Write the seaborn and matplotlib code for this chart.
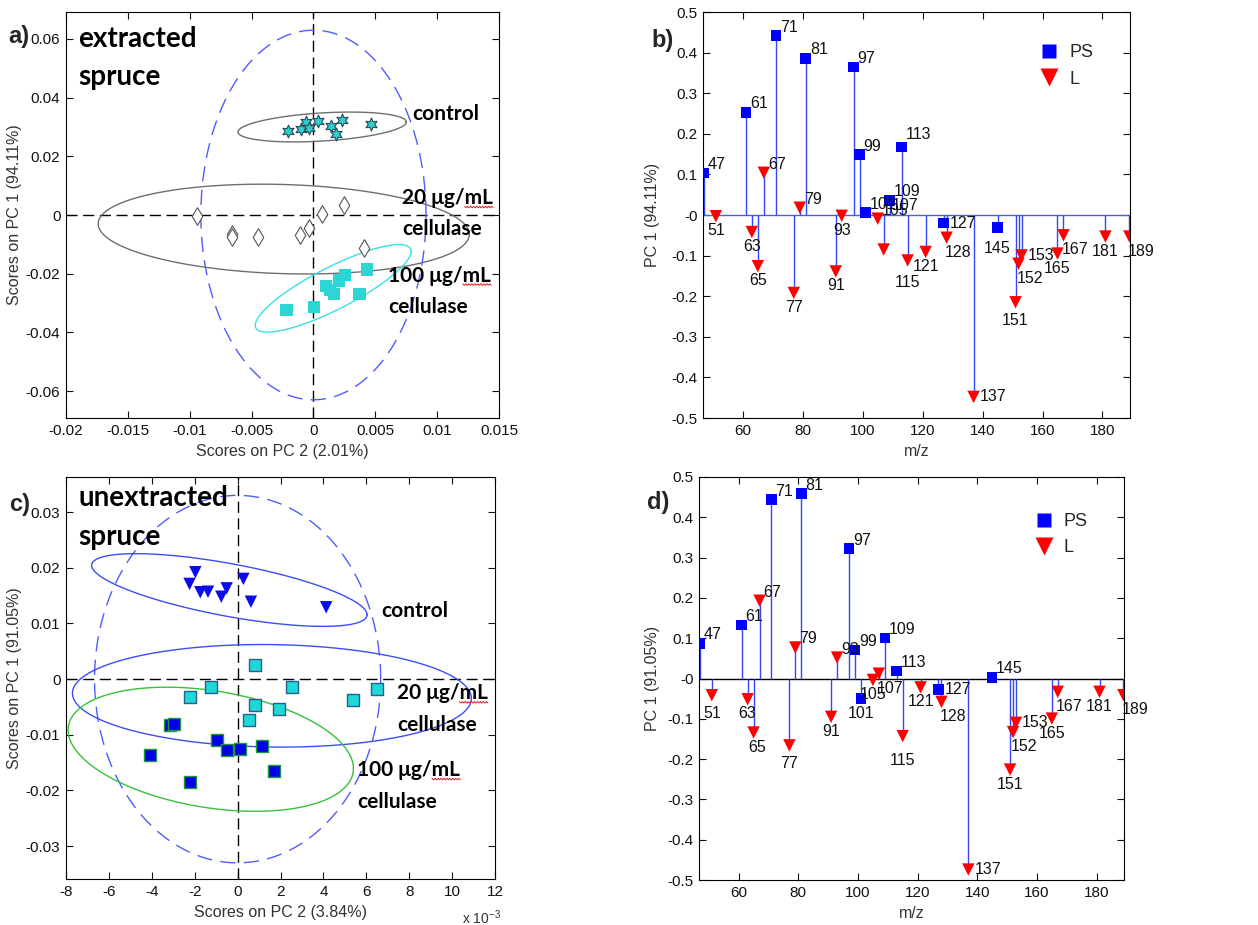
import numpy as np
import pandas as pd
import seaborn as sns
import matplotlib.pyplot as plt
from matplotlib import font_manager as fm
from matplotlib.lines import Line2D
from matplotlib.transforms import IdentityTransform
from matplotlib.ticker import FuncFormatter

# --- global style ---
sns.set_theme(style="ticks")
names = {f.name for f in fm.fontManager.ttflist}
NUM = 'Liberation Sans Narrow' if 'Liberation Sans Narrow' in names else 'Liberation Sans'
plt.rcParams['font.family'] = [NUM, 'DejaVu Sans']
plt.rcParams['axes.unicode_minus'] = False
plt.rcParams['mathtext.default'] = 'regular'
BOLD = ['Lato', 'DejaVu Sans']

# --- a) extracted spruce, scores ---
a_ctrl_pc2 = [-0.00208, -0.00103, -0.00062, -0.00038, 0.00035, 0.0014, 0.0018, 0.00234, 0.00469]
a_ctrl_pc1 = [0.0287, 0.0294, 0.0316, 0.0296, 0.0320, 0.0305, 0.0277, 0.0324, 0.0311]
a_c20_pc2 = [-0.00943, -0.00657, -0.00657, -0.00447, -0.00108, -0.00035, 0.00073, 0.00248, 0.00407]
a_c20_pc1 = [-0.0003, -0.0066, -0.0076, -0.0074, -0.0069, -0.0043, 0.0003, 0.0033, -0.0114]
a_c100_pc2 = [-0.00216, 0.00003, 0.00100, 0.00132, 0.00167, 0.00205, 0.00256, 0.00372, 0.00431]
a_c100_pc1 = [-0.0324, -0.0313, -0.0242, -0.0256, -0.0269, -0.0224, -0.0205, -0.0269, -0.0186]
# ellipses: centre x, centre y, half width, half height, tilt
a_ell_ctrl = [0.0007, 0.0300, 0.0068, 0.0048, 0.25]
a_ell_c20 = [-0.0024, -0.0048, 0.0150, 0.0152, -0.12]
a_ell_c100 = [0.0016, -0.0250, 0.0063, 0.0080, 2.0]
a_ell_lim = [0.0, 0.0, 0.0091, 0.063, 0.0]

# --- c) unextracted spruce, scores (PC 2 in 1e-3) ---
c_ctrl_pc2 = [-2.24, -1.97, -1.74, -1.38, -0.76, -0.51, 0.27, 0.62, 4.13]
c_ctrl_pc1 = [0.0171, 0.0192, 0.0156, 0.0157, 0.0148, 0.0163, 0.0180, 0.0139, 0.0129]
c_c20_pc2 = [-2.24, -1.22, 0.82, 0.82, 0.51, 1.91, 2.55, 5.36, 6.49]
c_c20_pc1 = [-0.0033, -0.0014, 0.0025, -0.0047, -0.0073, -0.0054, -0.0014, -0.0037, -0.0017]
c_c100_pc2 = [-4.10, -3.17, -2.98, -2.20, -0.96, -0.49, 0.09, 1.13, 1.72]
c_c100_pc1 = [-0.0137, -0.0083, -0.0080, -0.0184, -0.0109, -0.0127, -0.0125, -0.0120, -0.0165]
c_ell_ctrl = [-0.385, 0.0160, 6.42, 0.0048, -0.00069]
c_ell_c20 = [1.6, -0.0030, 9.3, 0.0092, -0.00005]
c_ell_c100 = [-1.25, -0.0126, 6.65, 0.0106, -0.00052]
c_ell_lim = [0.0, 0.0, 6.67, 0.033, 0.0]

# --- b), d) loadings on PC 1 ---
mz = [47, 51, 61, 63, 65, 67, 71, 77, 79, 81, 91, 93, 97, 99, 101, 105,
      107, 109, 113, 115, 121, 127, 128, 137, 145, 151, 152, 153, 165, 167, 181, 189]
ps_ions = [47, 61, 71, 81, 97, 99, 101, 109, 113, 127, 145]
load_b = [0.103, -0.003, 0.253, -0.042, -0.126, 0.104, 0.442, -0.192, 0.018, 0.386, -0.139, -0.002,
          0.365, 0.149, 0.006, -0.009, -0.085, 0.036, 0.168, -0.112, -0.091, -0.020, -0.056, -0.448,
          -0.031, -0.215, -0.120, -0.0995, -0.095, -0.050, -0.053, -0.053]
load_d = [0.087, -0.0415, 0.133, -0.0515, -0.134, 0.193, 0.444, -0.166, 0.077, 0.459, -0.095, 0.052,
          0.322, 0.071, -0.050, -0.0035, 0.012, 0.100, 0.019, -0.143, -0.022, -0.028, -0.058, -0.474,
          0.0025, -0.226, -0.133, -0.110, -0.0995, -0.033, -0.033, -0.0415]

# label placement (u = upper right, b = below, br = below right, r = right)
b_place = {47: 'u', 51: 'b', 61: 'u', 63: 'b', 65: 'b', 67: 'u', 71: 'u', 77: 'b', 79: 'u', 81: 'u',
           91: 'b', 93: 'b', 97: 'u', 99: 'u', 101: 'u', 105: 'u', 107: 'u', 109: 'u', 113: 'u',
           115: 'b', 121: 'b', 127: 'r', 128: 'br', 137: 'r', 145: 'b', 151: 'b', 152: 'br',
           153: 'r', 165: 'b', 167: 'br', 181: 'b', 189: 'br'}
d_place = dict(b_place)
d_place.update({93: 'u', 101: 'b', 105: 'b', 107: 'br', 145: 'u'})
b_shift = {107: (4, 36), 113: (0, 4), 145: (0, -6), 151: (0, -4), 115: (0, -8)}
d_shift = {115: (0, -10), 77: (0, -4), 51: (0, -4), 65: (4, 0)}

W, H = 1258, 925
fig = plt.figure(figsize=(W / 100, H / 100), dpi=100)


def box(l, t, r, b):
    return fig.add_axes([l / W, (H - b) / H, (r - l) / W, (b - t) / H])


def style_ax(ax):
    ax.tick_params(direction='in', top=True, right=True, length=5, width=0.8,
                   labelsize=11, colors='#111111', pad=4)
    for s in ax.spines.values():
        s.set_color('black')
        s.set_linewidth(0.8)
    ax.xaxis.set_major_formatter(FuncFormatter(lambda v, p: f"{v:g}"))
    ax.yaxis.set_major_formatter(FuncFormatter(lambda v, p: f"{v:g}"))


def ellipse(ax, p, **kw):
    cx, cy, a, b, k = p
    t = np.linspace(0, 2 * np.pi, 300)
    ax.plot(cx + a * np.cos(t), cy + b * np.sin(t) + k * a * np.cos(t), **kw)


spell_marked = []


def big_text(ax, x, y, s, size=15):
    t = ax.text(x, y, s, transform=ax.transAxes, family=BOLD, weight='bold',
                fontsize=size, va='baseline', ha='left', color='black', zorder=6)
    if s.endswith('mL'):
        spell_marked.append(t)


def score_panel(ax, groups, ells, ell_colors, lim, xlim, ylim, xticks, yticks):
    ax.axhline(0, color='black', lw=1, ls=(0, (8, 4)), zorder=1)
    ax.axvline(0, color='black', lw=1, ls=(0, (8, 4)), zorder=1)
    ellipse(ax, lim, color='#4f5cff', lw=1, ls=(0, (11, 6)), zorder=2)
    for p, c in zip(ells, ell_colors):
        ellipse(ax, p, color=c, lw=1, zorder=2)
    for x, y, kw in groups:
        sns.scatterplot(x=x, y=y, ax=ax, legend=False, zorder=4, **kw)
    ax.set_xlim(*xlim)
    ax.set_ylim(*ylim)
    ax.set_xticks(xticks)
    ax.set_yticks(yticks)
    style_ax(ax)


def loading_panel(ax, vals, place, shift, base_color, ylab, leg_y):
    df = pd.DataFrame({'mz': mz, 'val': vals})
    df['group'] = np.where(df['mz'].isin(ps_ions), 'PS', 'L')
    ax.axhline(0, color=base_color, lw=1, zorder=1)
    ax.vlines(df['mz'], 0, df['val'], color='#3347ff', lw=1, zorder=2)
    sns.scatterplot(data=df, x='mz', y='val', hue='group', style='group', size='group',
                    hue_order=['PS', 'L'], style_order=['PS', 'L'], size_order=['PS', 'L'],
                    sizes={'PS': 58, 'L': 80},
                    palette={'PS': '#0000ff', 'L': '#ff0000'},
                    markers={'PS': 's', 'L': 'v'}, edgecolor='none',
                    ax=ax, zorder=4)
    modes = {'u': (4, 1, 'left', 'bottom'), 'b': (0, -7, 'center', 'top'),
             'br': (-2, -7, 'left', 'top'), 'r': (6, 0, 'left', 'center')}
    for m, v in zip(mz, vals):
        dx, dy, ha, va = modes[place[m]]
        ex, ey = shift.get(m, (0, 0))
        ax.annotate(str(m), (m, v), xytext=(dx + ex, dy + ey), textcoords='offset pixels',
                    ha=ha, va=va, fontsize=11.5, color='#111111', zorder=5)
    h, l = ax.get_legend_handles_labels()
    ax.legend(h, l, loc='upper left', bbox_to_anchor=(0.752, leg_y), frameon=False,
              fontsize=13, handlelength=1.0, handletextpad=0.6, labelspacing=0.5,
              markerscale=1.4)
    ax.set_xlim(46.7, 189.2)
    ax.set_ylim(-0.5, 0.5)
    ax.set_xticks(range(60, 181, 20))
    ax.set_yticks(np.round(np.arange(-0.5, 0.51, 0.1), 1))
    style_ax(ax)
    ax.set_xlabel('m/z', fontsize=11.5, color='#333333', va='top')
    ax.set_ylabel(ylab, fontsize=11.5, color='#333333')


# --- a) ---
ax_a = box(66, 12, 499, 418)
score_panel(
    ax_a,
    [(a_ctrl_pc2, a_ctrl_pc1, dict(marker=(6, 1, 0), s=85, color='#2fcfcf', edgecolor='#2a4a5a', linewidth=0.8)),
     (a_c20_pc2, a_c20_pc1, dict(marker='d', s=80, color='white', edgecolor='#555555', linewidth=0.8)),
     (a_c100_pc2, a_c100_pc1, dict(marker='s', s=80, color='#2dd5d5', edgecolor='none'))],
    [a_ell_ctrl, a_ell_c20, a_ell_c100], ['#6e6e6e', '#6e6e6e', '#38e0e0'], a_ell_lim,
    (-0.02, 0.015), (-0.0692, 0.0692),
    np.round(np.arange(-0.02, 0.0151, 0.005), 3), np.round(np.arange(-0.06, 0.061, 0.02), 2))
ax_a.set_xlabel('Scores on PC 2 (2.01%)', fontsize=11.5, color='#333333', va='top')
ax_a.set_ylabel('Scores on PC 1 (94.11%)', fontsize=11.5, color='#333333')
big_text(ax_a, 0.028, 0.9146, 'extracted', 20)
big_text(ax_a, 0.028, 0.8202, 'spruce', 20)
big_text(ax_a, 0.799, 0.734, 'control')
big_text(ax_a, 0.776, 0.527, '20 μg/mL')
big_text(ax_a, 0.776, 0.451, 'cellulase')
big_text(ax_a, 0.744, 0.336, '100 μg/mL')
big_text(ax_a, 0.744, 0.258, 'cellulase')

# --- b) ---
ax_b = box(703, 12, 1130, 418)
loading_panel(ax_b, load_b, b_place, b_shift, '#4d5fe0', 'PC 1 (94.11%)', 0.96)

# --- c) ---
ax_c = box(66, 477, 495, 879)
score_panel(
    ax_c,
    [(c_ctrl_pc2, c_ctrl_pc1, dict(marker='v', s=80, color='#0a0aee', edgecolor='none')),
     (c_c20_pc2, c_c20_pc1, dict(marker='s', s=75, color='#1fd8d8', edgecolor='#25608f', linewidth=1)),
     (c_c100_pc2, c_c100_pc1, dict(marker='s', s=75, color='#0000e6', edgecolor='#1a9a3a', linewidth=1))],
    [c_ell_ctrl, c_ell_c20, c_ell_c100], ['#3d4df5', '#3d4df5', '#38c038'], c_ell_lim,
    (-8, 12), (-0.0359, 0.0363), range(-8, 13, 2), np.round(np.arange(-0.03, 0.031, 0.01), 2))
ax_c.set_xlabel('Scores on PC 2 (3.84%)', fontsize=11.5, color='#333333', va='top')
ax_c.set_ylabel('Scores on PC 1 (91.05%)', fontsize=11.5, color='#333333')
big_text(ax_c, 0.028, 0.928, 'unextracted', 20)
big_text(ax_c, 0.028, 0.831, 'spruce', 20)
big_text(ax_c, 0.736, 0.652, 'control')
big_text(ax_c, 0.771, 0.447, '20 μg/mL')
big_text(ax_c, 0.771, 0.369, 'cellulase')
big_text(ax_c, 0.679, 0.256, '100 μg/mL')
big_text(ax_c, 0.679, 0.176, 'cellulase')
fig.text(462 / W, 1 - 918 / H, 'x 10$^{-3}$', fontsize=10, color='#333333', va='center')

# --- d) ---
ax_d = box(699, 477, 1124, 880)
loading_panel(ax_d, load_d, d_place, d_shift, 'black', 'PC 1 (91.05%)', 0.95)

# label positions
for ax, l, t, r, b in [(ax_a, 66, 12, 499, 418), (ax_b, 703, 12, 1130, 418),
                       (ax_c, 66, 477, 495, 879), (ax_d, 699, 477, 1124, 880)]:
    ax.xaxis.set_label_coords(0.5, -26 / (b - t))
    ax.yaxis.set_label_coords(-(l - (22 if l < 300 else 660)) / (r - l), 0.5)

for s, x, y in [('a)', 19, 37), ('b)', 663, 40), ('c)', 20, 504), ('d)', 658, 503)]:
    fig.text(x / W, 1 - y / H, s, fontsize=17, weight='bold', ha='center', va='center',
             family=['Liberation Sans', 'DejaVu Sans'])

# red spell-check squiggle under "mL", as in the source figure
fig.canvas.draw()
rend = fig.canvas.get_renderer()
for t in spell_marked:
    bb = t.get_window_extent(rend)
    probe = fig.text(0, 0, 'mL', family=BOLD, weight='bold', fontsize=t.get_fontsize())
    w = probe.get_window_extent(rend).width
    probe.remove()
    base = t.get_transform().transform(t.get_position())[1]
    xs = np.arange(bb.x1 - w, bb.x1 + 1, 1.5)
    ys = base - 3 + np.where(np.arange(len(xs)) % 2 == 0, 0.8, -0.8)
    fig.add_artist(Line2D(xs, ys, color='#e02020', lw=0.7, transform=IdentityTransform()))

fig.savefig('out.png', dpi=100)
